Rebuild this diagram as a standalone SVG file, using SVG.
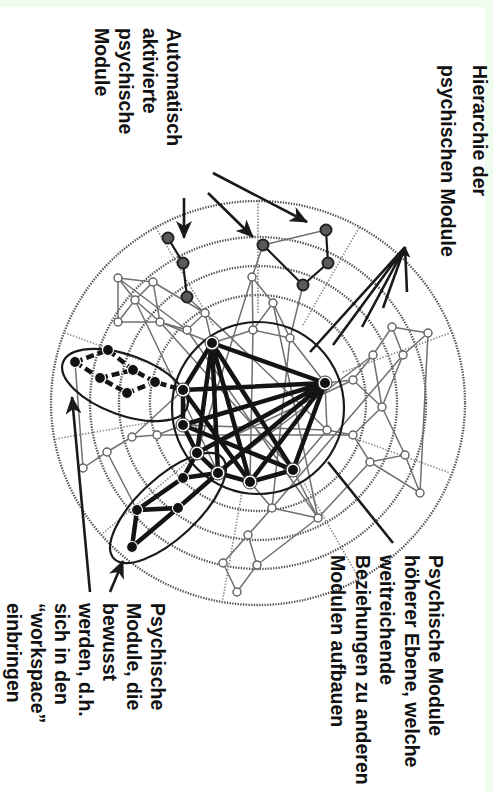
<svg xmlns="http://www.w3.org/2000/svg" width="493" height="791" viewBox="0 0 493 791">
<style>
.lbl{font-family:"Liberation Sans",Arial,sans-serif;font-weight:bold;font-size:19.5px;fill:#111}
.ring{fill:none;stroke:#555;stroke-width:2.3;stroke-dasharray:1.4 1.3}
.spoke{fill:none;stroke:#888;stroke-width:1.6;stroke-dasharray:1.4 1.6}
.web{fill:none;stroke:#707070;stroke-width:1.5}
.gn{fill:#fff;stroke:#666;stroke-width:1.5}
.thick{fill:none;stroke:#141414;stroke-width:4.5;stroke-linecap:round}
.dash{fill:none;stroke:#141414;stroke-width:4.5;stroke-dasharray:8 4}
.thin{fill:none;stroke:#1a1a1a;stroke-width:2.2}
.arr{fill:none;stroke:#1a1a1a;stroke-width:2.6}
.ell{fill:none;stroke:#1a1a1a;stroke-width:2.2}
.an{fill:#5a5a5a;stroke:#222;stroke-width:2}
</style>
<defs>
<marker id="ah" viewBox="0 0 18 16" refX="17" refY="8" markerWidth="18" markerHeight="16" orient="auto" markerUnits="userSpaceOnUse">
<path d="M0,0 L18,8 L0,16 L5,8 z" fill="#1a1a1a"/>
</marker>
<marker id="ahs" viewBox="0 0 12 10" refX="11" refY="5" markerWidth="12" markerHeight="10" orient="auto" markerUnits="userSpaceOnUse">
<path d="M0,0 L12,5 L0,10 L3,5 z" fill="#1a1a1a"/>
</marker>
<g id="bn"><circle r="7" fill="#fff" stroke="#333" stroke-width="1"/><circle r="5" fill="#111"/></g>
<g id="sn"><circle r="5.5" fill="#111" stroke="#fff" stroke-width="1.2"/></g>
</defs>
<rect x="0" y="0" width="493" height="791" fill="#effdef"/>
<rect x="0" y="7" width="485" height="784" fill="#fff"/>

<g id="rings">
<ellipse class="ring" cx="258" cy="403" rx="207" ry="202"/>
<ellipse class="ring" cx="258" cy="403" rx="168" ry="166"/>
<ellipse class="ring" cx="258" cy="403" rx="139" ry="137"/>
<ellipse class="ring" cx="258" cy="403" rx="108" ry="108"/>
</g>
<g id="spokes">
<path class="spoke" d="M258,313 L258,200"/>
<path class="spoke" d="M213,325 L155,226"/>
<path class="spoke" d="M303,325 L360,226"/>
<path class="spoke" d="M343,372 L450,333"/>
<path class="spoke" d="M343,434 L450,473"/>
<path class="spoke" d="M303,481 L360,580"/>
<path class="spoke" d="M242,492 L222,604"/>
<path class="spoke" d="M189,461 L101,535"/>
<path class="spoke" d="M169,419 L56,439"/>
<path class="spoke" d="M173,372 L65,333"/>
</g>

<g id="web">
<path class="web" d="M118,278 L153,282 L135,300 Z M118,278 L118,322 L135,300 L160,322 L153,282 M118,322 L160,322 L187,330 L205,313 L153,282 M118,278 L187,330 M160,322 L212,343 M205,313 L212,343 M187,297 L205,313"/>
<path class="web" d="M252,277 L273,303 L253,330 Z M273,303 L290,338 L253,330 M252,277 L263,245 M290,338 L303,285 M253,330 L212,343 M290,338 L325,383 M263,245 L326,230"/>
<path class="web" d="M392,327 L428,333 L403,355 Z M392,327 L373,355 L353,380 L382,407 L403,355 M373,355 L382,407 M353,380 L325,383 M382,407 L353,435 L327,430 M353,435 L370,462 L405,455 L382,407 M405,455 L420,493 L370,462 M327,430 L325,383 M327,430 L293,470 M428,333 L420,493"/>
<path class="web" d="M272,508 L318,518 M272,508 L248,535 L223,563 L237,592 L257,565 L248,535 M272,508 L250,482 M318,518 L293,470 M318,518 L370,462 M257,565 L318,518"/>
<path class="web" d="M132,437 L157,435 L183,425 M132,437 L107,452 L83,468 M132,437 L183,390 M107,452 L137,510 M83,468 L75,362"/>
<path class="web" d="M160,322 L293,470 M205,313 L327,430 M135,300 L218,473 M253,330 L250,482 M290,338 L272,508 M273,303 L318,518 M373,355 L218,473 M353,380 L197,453 M327,430 L183,425 M353,435 L157,435 M252,277 L197,453 M187,330 L318,518 M403,355 L272,508"/>
</g>
<g id="web-nodes">
<circle class="gn" cx="118" cy="278" r="4"/><circle class="gn" cx="153" cy="282" r="4"/><circle class="gn" cx="135" cy="300" r="4"/><circle class="gn" cx="118" cy="322" r="4"/><circle class="gn" cx="160" cy="322" r="4"/><circle class="gn" cx="187" cy="330" r="4"/><circle class="gn" cx="205" cy="313" r="4"/>
<circle class="gn" cx="252" cy="277" r="4"/><circle class="gn" cx="273" cy="303" r="4"/><circle class="gn" cx="253" cy="330" r="4"/><circle class="gn" cx="290" cy="338" r="4"/>
<circle class="gn" cx="392" cy="327" r="4"/><circle class="gn" cx="428" cy="333" r="4"/><circle class="gn" cx="373" cy="355" r="4"/><circle class="gn" cx="403" cy="355" r="4"/><circle class="gn" cx="353" cy="380" r="4"/><circle class="gn" cx="382" cy="407" r="4"/><circle class="gn" cx="327" cy="430" r="4"/><circle class="gn" cx="353" cy="435" r="4"/><circle class="gn" cx="405" cy="455" r="4"/><circle class="gn" cx="370" cy="462" r="4"/><circle class="gn" cx="420" cy="493" r="4"/>
<circle class="gn" cx="272" cy="508" r="4"/><circle class="gn" cx="318" cy="518" r="4"/><circle class="gn" cx="248" cy="535" r="4"/><circle class="gn" cx="223" cy="563" r="4"/><circle class="gn" cx="257" cy="565" r="4"/><circle class="gn" cx="237" cy="592" r="4"/>
<circle class="gn" cx="132" cy="437" r="4"/><circle class="gn" cx="157" cy="435" r="4"/><circle class="gn" cx="107" cy="452" r="4"/><circle class="gn" cx="83" cy="468" r="4"/>
</g>

<g id="workspace-circle"><circle cx="258" cy="408" r="86" fill="none" stroke="#1a1a1a" stroke-width="2.2"/></g>
<g id="ellipse-upper"><ellipse class="ell" cx="125" cy="385" rx="66" ry="30" transform="rotate(20 125 385)"/></g>
<g id="ellipse-lower"><ellipse class="ell" cx="168" cy="508" rx="74" ry="30" transform="rotate(-43 168 508)"/></g>

<g id="connectors">
<path class="thick" d="M212,343 L325,383 M212,343 L183,390 M212,343 L218,473 M212,343 L250,482 M212,343 L293,470 M212,343 L197,453 M325,383 L183,390 M325,383 L183,425 M325,383 L197,453 M325,383 L218,473 M325,383 L293,470 M325,383 L250,482 M183,390 L183,425 L197,453 L218,473 L250,482 L293,470 M183,425 L293,470 M183,390 L250,482"/>
<path class="dash" d="M75,362 L108,350 L133,370 L155,382 L183,390 M75,362 L100,378 L127,393 L155,382 M100,378 L133,370"/>
<path class="thick" d="M218,473 L183,478 L137,510 L178,508 L218,473 M137,510 L132,547 L178,508 M197,453 L183,478"/>
<path class="thin" d="M168,238 L183,263 L187,297 M263,245 L303,285 L328,263 L326,230"/>
<path class="arr" d="M184,198 L184,238" marker-end="url(#ah)"/>
<path class="arr" d="M208,193 L253,237" marker-end="url(#ah)"/>
<path class="arr" d="M213,173 L307,222" marker-end="url(#ah)"/>
<path class="arr" d="M310,352 L405,247 M333,345 L405,247 M362,327 L405,247 M383,308 L405,247"/>
<path class="arr" d="M407,292 L405,247" marker-end="url(#ahs)"/>
<path class="arr" d="M328,462 L393,543"/>
<path class="arr" d="M90,592 L72,397" marker-end="url(#ah)"/>
<path class="arr" d="M110,592 L123,561" marker-end="url(#ah)"/>
</g>

<g id="nodes">
<circle class="an" cx="168" cy="238" r="5.5"/><circle class="an" cx="183" cy="263" r="5.5"/><circle class="an" cx="187" cy="297" r="5.5"/>
<circle class="an" cx="263" cy="245" r="5.5"/><circle class="an" cx="326" cy="230" r="5.5"/><circle class="an" cx="328" cy="263" r="5.5"/><circle class="an" cx="303" cy="285" r="5.5"/>
<use href="#bn" x="212" y="343"/><use href="#bn" x="325" y="383"/><use href="#bn" x="183" y="390"/><use href="#bn" x="183" y="425"/><use href="#bn" x="197" y="453"/><use href="#bn" x="218" y="473"/><use href="#bn" x="250" y="482"/><use href="#bn" x="293" y="470"/>
<use href="#sn" x="75" y="362"/><use href="#sn" x="108" y="350"/><use href="#sn" x="133" y="370"/><use href="#sn" x="155" y="382"/><use href="#sn" x="100" y="378"/><use href="#sn" x="127" y="393"/>
<use href="#sn" x="183" y="478"/><use href="#sn" x="137" y="510"/><use href="#sn" x="178" y="508"/><use href="#sn" x="132" y="547"/>
</g>

<g id="label-hierarchie" class="lbl">
<text transform="translate(473,65) rotate(90)">Hierarchie der</text>
<text transform="translate(441,65) rotate(90)">psychischen Module</text>
</g>
<g id="label-automatisch" class="lbl">
<text transform="translate(167,28) rotate(90)">Automatisch</text>
<text transform="translate(143,28) rotate(90)">aktivierte</text>
<text transform="translate(119,28) rotate(90)">psychische</text>
<text transform="translate(95,28) rotate(90)">Module</text>
</g>
<g id="label-hoeher" class="lbl">
<text transform="translate(429,555) rotate(90)">Psychische Module</text>
<text transform="translate(404.5,555) rotate(90)">höherer Ebene, welche</text>
<text transform="translate(380,555) rotate(90)">weitreichende</text>
<text transform="translate(355.5,555) rotate(90)">Beziehungen zu anderen</text>
<text transform="translate(331,555) rotate(90)">Modulen aufbauen</text>
</g>
<g id="label-bewusst" class="lbl">
<text transform="translate(151,603) rotate(90)">Psychische</text>
<text transform="translate(127,603) rotate(90)">Module, die</text>
<text transform="translate(103,603) rotate(90)">bewusst</text>
<text transform="translate(79,603) rotate(90)">werden, d.h.</text>
<text transform="translate(55,603) rotate(90)">sich in den</text>
<text transform="translate(31,603) rotate(90)">“workspace”</text>
<text transform="translate(7,603) rotate(90)">einbringen</text>
</g>
</svg>
